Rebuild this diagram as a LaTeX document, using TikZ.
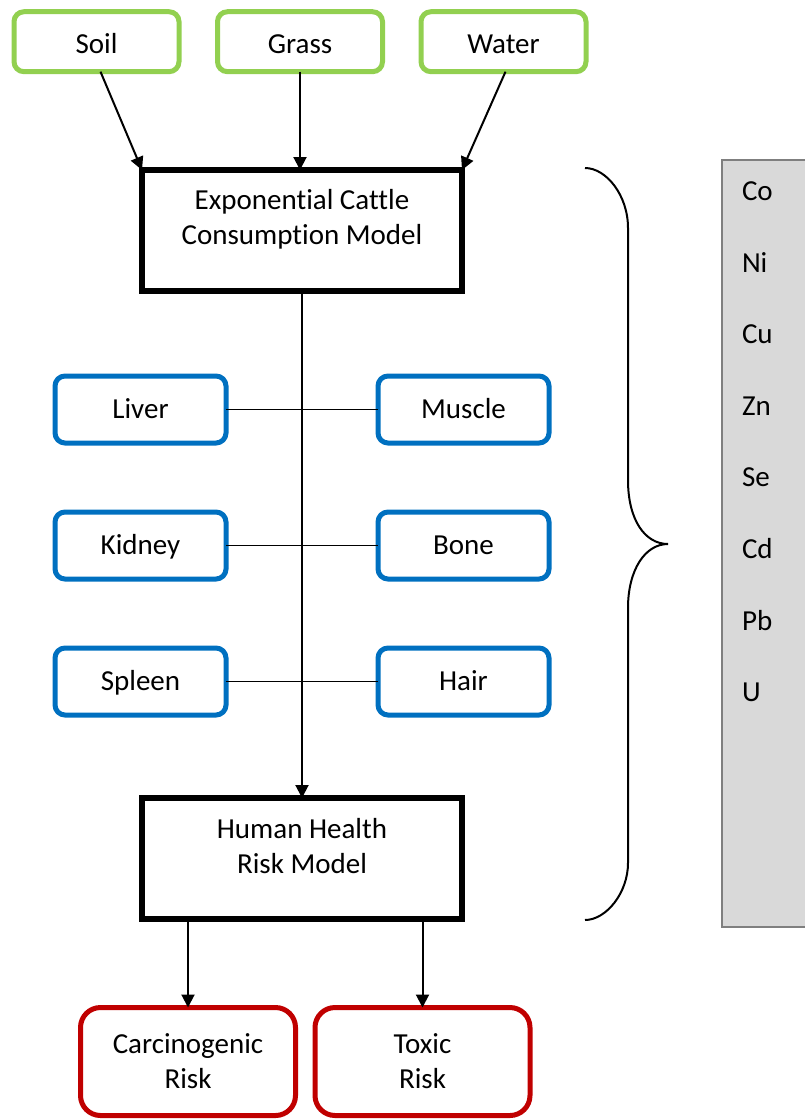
\documentclass[tikz,border=0pt]{standalone}
\usepackage{fontspec}
\setmainfont[Ligatures=NoCommon]{Carlito}
\usetikzlibrary{arrows.meta,calc}
\definecolor{srcgreen}{HTML}{92D050}
\definecolor{organblue}{HTML}{0070C0}
\definecolor{riskred}{HTML}{C00000}
\definecolor{panelgray}{HTML}{D9D9D9}
\definecolor{paneledge}{HTML}{7F7F7F}
\begin{document}
\begin{tikzpicture}[x=1pt,y=-1pt,
  every node/.style={font=\fontsize{29}{35}\selectfont, inner sep=0pt, outer sep=0pt},
  onelinetext/.style={text height=20.5pt, text depth=2pt},
  srcbox/.style={draw=srcgreen, line width=5pt, rounded corners=10pt,
    minimum width=165pt, minimum height=60pt, text height=26.5pt, text depth=2pt},
  organbox/.style={draw=organblue, line width=5pt, rounded corners=10pt,
    minimum width=171pt, minimum height=67pt, onelinetext},
  modelbox/.style={draw=black, line width=6.5pt, minimum width=320pt, minimum height=121pt},
  riskbox/.style={draw=riskred, line width=5pt, rounded corners=20pt,
    minimum width=215pt, minimum height=108pt, align=center},
  boxtext/.style={align=center},
  flow/.style={draw=black, line width=2pt, -{Triangle[length=13pt,width=13pt]}},
  link/.style={draw=black, line width=1.6pt},
  bracepath/.style={draw=black, line width=2pt},
  panel/.style={draw=paneledge, fill=panelgray, line width=1.3pt, anchor=north west,
    minimum width=110pt, minimum height=767pt},
  element/.style={anchor=base west}
]
\useasboundingbox (0,0) rectangle (805,1119);

% input sources
\node[srcbox] (soil)  at (96.5,41.7)  {Soil};
\node[srcbox] (grass) at (300,41.7)   {Grass};
\node[srcbox] (water) at (503.5,41.7) {Water};

% consumption model
\node[modelbox] (cattle) at (302,230.5) {};
\node[boxtext] (cattletext) at (302,219) {Exponential Cattle\\Consumption Model};

% tissues
\node[organbox] (liver)  at (140.5,409.5) {Liver};
\node[organbox] (muscle) at (463.5,409.5) {Muscle};
\node[organbox] (kidney) at (140.5,545.5) {Kidney};
\node[organbox] (bone)   at (463.5,545.5) {Bone};
\node[organbox] (spleen) at (140.5,681.5) {Spleen};
\node[organbox] (hair)   at (463.5,681.5) {Hair};

% health risk model
\node[modelbox] (human) at (302,858.5) {};
\node[boxtext] (humantext) at (302,846) {Human Health\\Risk Model};

% outcomes
\node[riskbox] (carc)  at (188,1061.5)   {Carcinogenic\\Risk};
\node[riskbox] (toxic) at (422.5,1061.5) {Toxic\\Risk};

% element panel
\node[panel] (elements) at (722,160) {};
\foreach \el [count=\i from 0] in {Co,Ni,Cu,Zn,Se,Cd,Pb,U}{
  \node[element] (el\i) at ($(elements.north west)+(20,40.5+71.6*\i)$) {\el};
}

% inflows
\draw[flow] ($(soil.south)+(4,0)$) -- (cattle.north west);
\draw[flow] (grass.south) -- (grass.south |- cattle.north);
\draw[flow] ($(water.south)+(2,0)$) -- (cattle.north east);

% main trunk
\draw[flow] (cattle.south) -- (human.north);
\draw[link] (liver.east)  -- (muscle.west);
\draw[link] (kidney.east) -- (bone.west);
\draw[link] (spleen.east) -- (hair.west);

% outflows
\draw[flow] (human.south -| carc.north)  -- (carc.north);
\draw[flow] (human.south -| toxic.north) -- (toxic.north);

% brace grouping the models with the element list
\draw[bracepath] (585,168) .. controls (606,168) and (628,195) .. (628,228)
  -- (628,480) .. controls (628,520) and (645,544) .. (668,544)
  .. controls (645,544) and (628,570) .. (628,608)
  -- (628,863) .. controls (628,893) and (606,920) .. (585,920);
\end{tikzpicture}
\end{document}
